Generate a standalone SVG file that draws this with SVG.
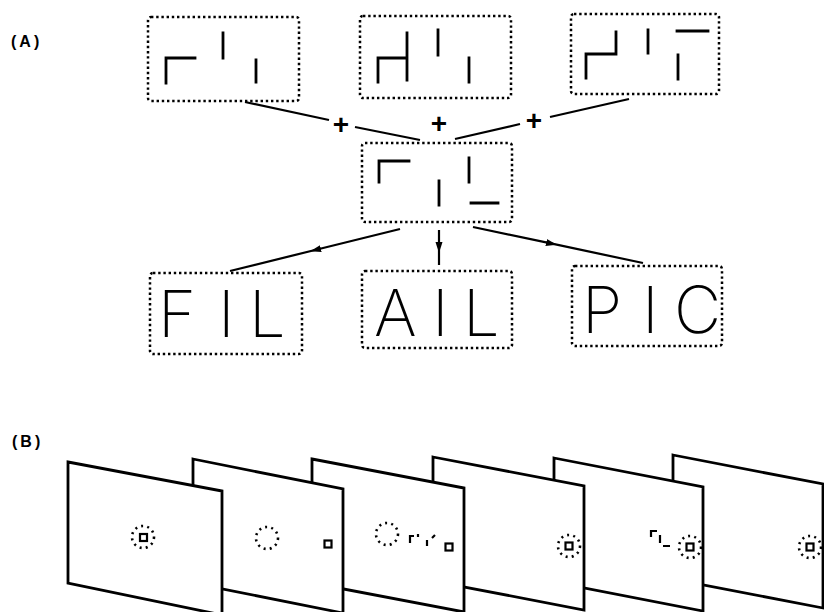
<svg xmlns="http://www.w3.org/2000/svg" width="824" height="612" viewBox="0 0 824 612">
<defs>
<style>
.box{fill:none;stroke:#000;stroke-width:2.5;stroke-dasharray:2.4 2.8}
.seg{fill:none;stroke:#000;stroke-width:2.8;stroke-linecap:square}
.conn{fill:none;stroke:#000;stroke-width:2.2}
.arr{fill:none;stroke:#000;stroke-width:2.2;marker-mid:url(#ah)}
.lbl{font-family:"Liberation Sans",Arial,sans-serif;font-weight:bold;font-size:16px;letter-spacing:3px;fill:#000}
.plus{font-family:"Liberation Sans",Arial,sans-serif;font-weight:bold;font-size:28px;fill:#000;text-anchor:middle}
.word{font-family:Inter,Roboto,"Liberation Sans",sans-serif;font-weight:200;font-size:65px;fill:#000}
.panel{fill:#fff;stroke:#000;stroke-width:2.8;stroke-linejoin:miter}
.ring{fill:none;stroke:#000;stroke-width:2.6;stroke-dasharray:2 4.2}
.sq{fill:none;stroke:#000;stroke-width:2.2}
.mini{fill:none;stroke:#000;stroke-width:2.2}
</style>
<marker id="ah" markerUnits="userSpaceOnUse" markerWidth="12" markerHeight="8" refX="6" refY="3.5" orient="auto">
<path d="M0,0 L11,3.5 L0,7 z" fill="#000"/>
</marker>
</defs>
<rect width="824" height="612" fill="#fff"/>

<text class="lbl" x="11" y="47">(A)</text>
<text class="lbl" x="12" y="447">(B)</text>

<g id="connectors">
<line class="conn" x1="245" y1="102" x2="329" y2="120"/>
<line class="conn" x1="355" y1="127" x2="420" y2="140"/>
<line class="conn" x1="629" y1="99" x2="550" y2="117"/>
<line class="conn" x1="520" y1="124" x2="455" y2="139"/>
<text class="plus" x="341" y="134">+</text>
<text class="plus" x="439" y="133">+</text>
<text class="plus" x="534" y="130">+</text>
<path class="arr" d="M400,229 L315,250 L230,271"/>
<path class="arr" d="M439,230 L439,248 L439,265"/>
<path class="arr" d="M473,227 L552,243.7 L643,263"/>
</g>

<g id="node-fragments-1">
<rect class="box" x="148" y="17" width="151" height="84" rx="3"/>
<path class="seg" d="M166,83 V58 H195 M223,33 V58 M256,60 V82"/>
</g>
<g id="node-fragments-2">
<rect class="box" x="360" y="16" width="151" height="82" rx="3"/>
<path class="seg" d="M378,82 V58 H407 M407,33 V80 M438,30 V55 M469,58 V82"/>
</g>
<g id="node-fragments-3">
<rect class="box" x="571" y="14" width="148" height="80" rx="3"/>
<path class="seg" d="M586,78 V54 H616 V32 M648,30 V53 M677,31 H708 M678,55 V79"/>
</g>
<g id="node-combined">
<rect class="box" x="362" y="143" width="150" height="79" rx="3"/>
<path class="seg" d="M379,182 V161 H409 M469,158 V182 M439,181 V205 M471,203 H498"/>
</g>
<g id="node-FIL">
<rect class="box" x="150" y="273" width="152" height="81" rx="3"/>
<text class="word" x="158 218 249" y="337">FIL</text>
</g>
<g id="node-AIL">
<rect class="box" x="362" y="271" width="150" height="77" rx="3"/>
<text class="word" x="374 432 463" y="336">AIL</text>
</g>
<g id="node-PIC">
<rect class="box" x="572" y="266" width="150" height="80" rx="3"/>
<text class="word" x="582 642 674" y="333">PIC</text>
</g>

<g id="panel-6">
<polygon class="panel" points="673,455 823,484 823,608 673,579"/>
<circle class="ring" cx="810" cy="547" r="11"/>
<rect class="sq" x="806.5" y="543.5" width="7" height="7"/>
</g>
<g id="panel-5">
<polygon class="panel" points="554,458 703,487 703,611 554,582"/>
<circle class="ring" cx="690" cy="547" r="11"/>
<rect class="sq" x="686.5" y="543.5" width="7" height="7"/>
<path class="mini" d="M651,537 V531 H657 M660,535 V543 M663,546 H670"/>
</g>
<g id="panel-4">
<polygon class="panel" points="433,457 584,486 584,610 433,581"/>
<circle class="ring" cx="569" cy="546" r="11"/>
<rect class="sq" x="565.5" y="542.5" width="7" height="7"/>
</g>
<g id="panel-3">
<polygon class="panel" points="312,459 464,488 464,612 312,583"/>
<circle class="ring" cx="387" cy="534" r="11"/>
<rect class="sq" x="445.5" y="543.5" width="7" height="7"/>
<path class="mini" d="M410,543 V536 H414 M418,534 V537 M427,540 V546 M432,538 L435,535"/>
</g>
<g id="panel-2">
<polygon class="panel" points="193,459 343,489 343,613 193,583"/>
<circle class="ring" cx="267" cy="538" r="11"/>
<rect class="sq" x="324.5" y="540.5" width="7" height="7"/>
</g>
<g id="panel-1">
<polygon class="panel" points="68,462 222,491 222,615 68,583"/>
<circle class="ring" cx="143" cy="537" r="11"/>
<rect class="sq" x="140" y="534" width="7" height="7"/>
</g>
</svg>
